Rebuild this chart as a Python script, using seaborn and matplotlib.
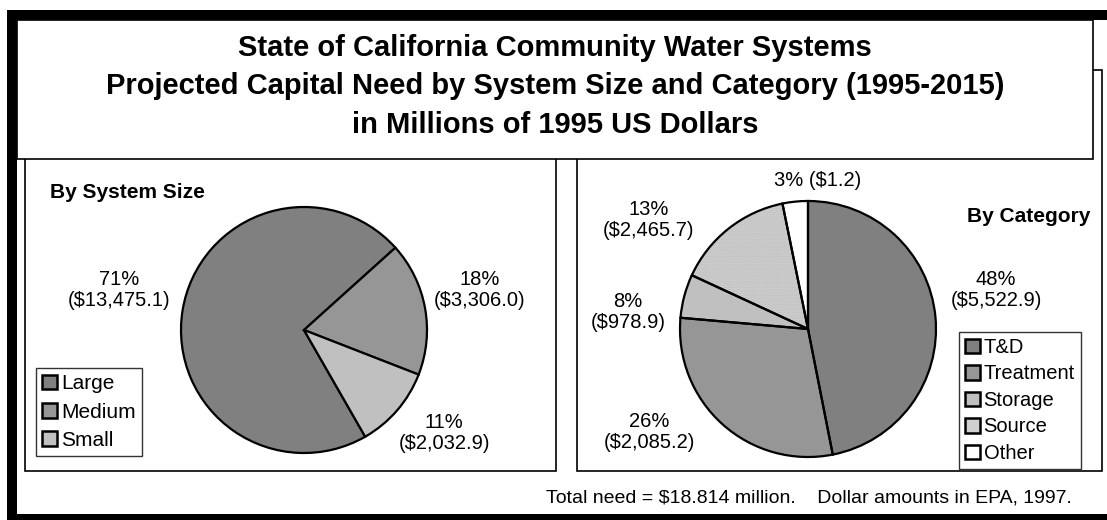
import matplotlib
matplotlib.use("Agg")
import matplotlib.pyplot as plt
from matplotlib.patches import Rectangle, Patch
import seaborn as sns

# data
size_labels = ["Large", "Medium", "Small"]
size_values = [13475.1, 3306.0, 2032.9]
size_pct = ["71%", "18%", "11%"]
size_dollars = ["($13,475.1)", "($3,306.0)", "($2,032.9)"]

cat_labels = ["T&D", "Treatment", "Storage", "Source", "Other"]
cat_share = [46.9, 29.5, 5.5, 14.9, 3.2]   # slice sizes as drawn
cat_pct = ["48%", "26%", "8%", "13%", "3%"]
cat_dollars = ["($5,522.9)", "($2,085.2)", "($978.9)", "($2,465.7)", "($1.2)"]

title_lines = ["State of California Community Water Systems",
               "Projected Capital Need by System Size and Category (1995-2015)",
               "in Millions of 1995 US Dollars"]
footnote = "Total need = $18.814 million.    Dollar amounts in EPA, 1997."

size_colors = ["#808080", "#969696", "#c0c0c0"]
cat_colors = ["#808080", "#969696", "#c0c0c0", "#dadada", "#ffffff"]

sns.set_theme(style="white")
plt.rcParams['font.family'] = ['Liberation Sans', 'DejaVu Sans']
plt.rcParams['text.color'] = 'black'
plt.rcParams['legend.labelcolor'] = 'black'

W, H = 1107, 520
fig = plt.figure(figsize=(W / 100, H / 100), dpi=100)
fig.patch.set_facecolor("white")


def fx(x):
    return x / W


def fy(y):
    return 1 - y / H


def box(x0, y0, x1, y1, lw=1.2, fill="none", z=1):
    fig.add_artist(Rectangle((fx(x0), fy(y1)), (x1 - x0) / W, (y1 - y0) / H,
                             transform=fig.transFigure, facecolor=fill,
                             edgecolor="black", linewidth=lw, zorder=z))


def bar(x0, y0, x1, y1):
    fig.add_artist(Rectangle((fx(x0), fy(y1)), (x1 - x0) / W, (y1 - y0) / H,
                             transform=fig.transFigure, facecolor="black",
                             edgecolor="none", zorder=5))


# panels and frame
box(25, 70, 556, 471)
box(577, 70, 1102, 471)
box(17, 20, 1093, 159, fill="white", z=3)
bar(7, 10, 1107, 20)
bar(7, 10, 17, 520)
bar(7, 514, 1107, 520)

for i, line in enumerate(title_lines):
    fig.text(fx(555), fy(48 + 38.5 * i), line, ha="center", va="center",
             fontsize=21, fontweight="bold", zorder=6)


def pie_axes(cx, cy, r):
    m = 1.08
    ax = fig.add_axes([fx(cx - r * m), fy(cy + r * m), 2 * r * m / W, 2 * r * m / H])
    return ax


# left pie
ax1 = pie_axes(304, 330, 123)
start = 42 + 360 * size_values[0] / sum(size_values)
ax1.pie(size_values, colors=size_colors, startangle=start, counterclock=False,
        wedgeprops=dict(edgecolor="black", linewidth=1.6))
ax1.set_xlim(-1.08, 1.08)
ax1.set_ylim(-1.08, 1.08)
ax1.set_aspect("equal")
ax1.axis("off")

# right pie
ax2 = pie_axes(808, 329, 128)
wedges, _ = ax2.pie(cat_share, colors=cat_colors, startangle=90, counterclock=False,
                    wedgeprops=dict(linewidth=0))
wedges[3].set_hatch("........")
wedges[3].set_edgecolor("#b4b4b4")
ax2.pie(cat_share, startangle=90, counterclock=False,
        wedgeprops=dict(edgecolor="black", linewidth=1.6, fill=False))
ax2.set_xlim(-1.08, 1.08)
ax2.set_ylim(-1.08, 1.08)
ax2.set_aspect("equal")
ax2.axis("off")

# panel headings
fig.text(fx(50), fy(192), "By System Size", fontsize=15, fontweight="bold", va="center")
fig.text(fx(1090), fy(216), "By Category", fontsize=15, fontweight="bold",
         va="center", ha="right")

# data labels
lab = dict(fontsize=14.5, ha="center", va="center", linespacing=1.1)
fig.text(fx(119), fy(290), size_pct[0] + "\n" + size_dollars[0], **lab)
fig.text(fx(480), fy(290), size_pct[1] + "\n" + size_dollars[1], **lab)
fig.text(fx(444), fy(433), size_pct[2] + "\n" + size_dollars[2], **lab)

fig.text(fx(996), fy(290), cat_pct[0] + "\n" + cat_dollars[0], **lab)
fig.text(fx(649), fy(432), cat_pct[1] + "\n" + cat_dollars[1], **lab)
fig.text(fx(628), fy(312), cat_pct[2] + "\n" + cat_dollars[2], **lab)
fig.text(fx(649), fy(220), cat_pct[3] + "\n" + cat_dollars[3], **lab)
fig.text(fx(818), fy(181), cat_pct[4] + " " + cat_dollars[4], **lab)


# legends
def legend(labels, colors, x0, y0, size, spacing, hatches=None):
    handles = []
    for i, (l, c) in enumerate(zip(labels, colors)):
        h = hatches[i] if hatches else None
        handles.append(Patch(facecolor=c, edgecolor="black", linewidth=1.8,
                             hatch=h, label=l))
    lg = fig.legend(handles=handles, loc="upper left", bbox_to_anchor=(fx(x0), fy(y0)),
                    frameon=True, fancybox=False, fontsize=size, handlelength=0.72,
                    handleheight=0.72, handletextpad=0.2, labelspacing=spacing,
                    borderpad=0.3, borderaxespad=0, edgecolor="#333333",
                    framealpha=1)
    lg.get_frame().set_linewidth(1.0)
    return lg


legend(size_labels, size_colors, 36, 368, 15, 0.45)
legend(cat_labels, ["#808080", "#969696", "#c0c0c0", "#d0d0d0", "#ffffff"], 959, 332,
       14.5, 0.37)

fig.text(fx(1072), fy(498), footnote, fontsize=14, ha="right", va="center")

fig.savefig("out.png", dpi=100)
